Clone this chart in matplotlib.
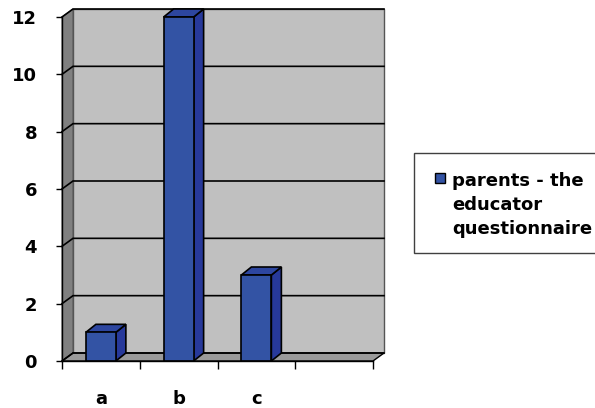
import matplotlib
matplotlib.use("Agg")
import matplotlib.pyplot as plt
from matplotlib.patches import Polygon, Rectangle

# Chart data
categories = ["a", "b", "c", ""]
values = [1, 12, 3]
series_label_lines = ["parents - the", "educator", "questionnaire"]
yticks = [0, 2, 4, 6, 8, 10, 12]

W, H = 595, 408
fig = plt.figure(figsize=(W / 100, H / 100), dpi=100)
fig.patch.set_facecolor("white")

n_slots = len(categories)
y_max = yticks[-1]

# Front plane of the 3-D box
ax = fig.add_axes([62 / W, 1 - 361 / H, 311 / W, 344 / H])
ax.set_xlim(0, n_slots)
ax.set_ylim(0, y_max)
ax.set_facecolor("none")

# Pixel -> data conversion for the depth offsets
px_x = ax.bbox.width / n_slots
px_y = ax.bbox.height / y_max
WALL_DX, WALL_DY = 11 / px_x, 8 / px_y
BAR_DX, BAR_DY = 10 / px_x, 8 / px_y

FRONT = "#3353a4"
SIDE = "#27399a"
TOP = "#2d469f"

# Walls and floor
back_wall = Polygon([(WALL_DX, WALL_DY), (n_slots + WALL_DX, WALL_DY),
                     (n_slots + WALL_DX, y_max + WALL_DY), (WALL_DX, y_max + WALL_DY)],
                    closed=True, fc="#c0c0c0", ec="#555555", lw=1.0,
                    clip_on=False, zorder=0.5)
side_wall = Polygon([(0, 0), (WALL_DX, WALL_DY), (WALL_DX, y_max + WALL_DY), (0, y_max)],
                    closed=True, fc="#808080", ec="#555555", lw=0.8,
                    clip_on=False, zorder=0.6)
floor = Polygon([(0, 0), (n_slots, 0), (n_slots + WALL_DX, WALL_DY), (WALL_DX, WALL_DY)],
                closed=True, fc="#9a9a9a", ec="black", lw=1.0,
                clip_on=False, zorder=0.7)
for p in (back_wall, side_wall, floor):
    ax.add_patch(p)

# Gridlines on side and back walls
for v in yticks:
    ax.plot([0, WALL_DX, n_slots + WALL_DX], [v, v + WALL_DY, v + WALL_DY],
            color="black", lw=1.2, clip_on=False, zorder=1.5,
            solid_joinstyle="miter")

# 3-D columns
bw = 30 / px_x
for i, v in enumerate(values):
    x0 = i + 0.5 - bw / 2
    x1 = x0 + bw
    side = Polygon([(x1, 0), (x1 + BAR_DX, BAR_DY), (x1 + BAR_DX, v + BAR_DY), (x1, v)],
                   closed=True, fc=SIDE, ec="black", lw=1.2, clip_on=False, zorder=3)
    top = Polygon([(x0, v), (x1, v), (x1 + BAR_DX, v + BAR_DY), (x0 + BAR_DX, v + BAR_DY)],
                  closed=True, fc=TOP, ec="black", lw=1.2, clip_on=False, zorder=3)
    front = Rectangle((x0, 0), bw, v, fc=FRONT, ec="black", lw=1.2,
                      clip_on=False, zorder=3.1)
    for p in (side, top, front):
        ax.add_patch(p)

# Axes, ticks and labels
for s in ("top", "right"):
    ax.spines[s].set_visible(False)
for s in ("left", "bottom"):
    ax.spines[s].set_color("black")
    ax.spines[s].set_linewidth(1.0)
    ax.spines[s].set_zorder(4)

font = dict(family="DejaVu Sans", weight="bold", size=13)

ax.set_yticks(yticks)
ax.set_yticklabels([str(t) for t in yticks], fontdict=font)
ax.tick_params(axis="y", direction="out", length=4, width=1, pad=14, colors="black")

ax.set_xticks(range(n_slots + 1))
ax.set_xticklabels([""] * (n_slots + 1))
ax.tick_params(axis="x", which="major", direction="out", length=6, width=1, colors="black")
ax.set_xticks([i + 0.5 for i in range(n_slots)], minor=True)
ax.set_xticklabels(categories, minor=True, fontdict=font)
ax.tick_params(axis="x", which="minor", length=0, pad=21)

# Legend box
def fx(px):
    return px / W

def fy(py):
    return 1 - py / H

fig.patches.append(Rectangle((fx(414), fy(253)), fx(600) - fx(414), fy(153) - fy(253),
                             transform=fig.transFigure, fc="white", ec="#404040",
                             lw=1.0, zorder=5))
fig.patches.append(Rectangle((fx(435), fy(183)), fx(445) - fx(435), fy(173) - fy(183),
                             transform=fig.transFigure, fc=FRONT, ec="black",
                             lw=1.0, zorder=6))
for k, line in enumerate(series_label_lines):
    fig.text(fx(452), fy(186 + 24 * k), line, ha="left", va="baseline",
             zorder=7, **font)

fig.savefig("out.png", dpi=100)
